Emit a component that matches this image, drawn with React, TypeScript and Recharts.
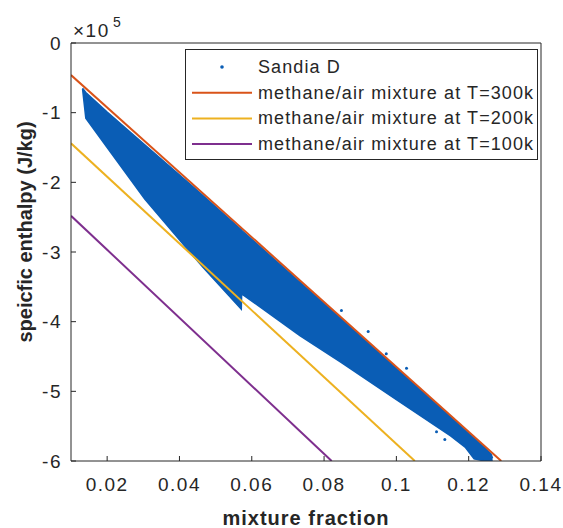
import React from 'react';
import { ComposedChart, Area, Line, Scatter, XAxis, YAxis, Legend } from 'recharts';

const FONT = '"Liberation Sans", Arial, Helvetica, sans-serif';
const INK = '#262626';
const BLUE = '#0a5db5';

// axis ticks
const xTicks = [0.02, 0.04, 0.06, 0.08, 0.1, 0.12, 0.14];
const yTicks = [-600000, -500000, -400000, -300000, -200000, -100000, 0];

// Sandia D point cloud: envelope of the dense scatter (J/kg)
const bandX = [0.0132, 0.0141, 0.02, 0.0304, 0.0437, 0.0465, 0.0571, 0.0572, 0.0733, 0.0846, 0.1, 0.115, 0.119, 0.1215, 0.1245, 0.1262, 0.1266];
const bandLow = [-0.66e5, -1.08e5, -1.5e5, -2.24e5, -3.05e5, -3.22e5, -3.82e5, -3.6e5, -4.2e5, -4.58e5, -5.12e5, -5.64e5, -5.8e5, -5.97e5, -6.0e5, -6.0e5, -5.99e5];
const bandHigh = [-0.65e5, -0.71e5, -0.99e5, -1.46e5, -2.06e5, -2.19e5, -2.68e5, -2.69e5, -3.43e5, -3.95e5, -4.67e5, -5.36e5, -5.55e5, -5.67e5, -5.81e5, -5.9e5, -5.96e5];

// isolated Sandia D points
const outX = [0.0848, 0.0922, 0.0972, 0.1028, 0.1111, 0.1134];
const outY = [-3.84e5, -4.14e5, -4.46e5, -4.67e5, -5.58e5, -5.69e5];

// methane/air mixture lines
const t300X = [0.01, 0.129];
const t300Y = [-0.46e5, -6.0e5];
const t200X = [0.01, 0.1051];
const t200Y = [-1.44e5, -6.0e5];
const t100X = [0.01, 0.0821];
const t100Y = [-2.48e5, -6.0e5];

const seriesNames = ['Sandia D', 'methane/air mixture at T=300k', 'methane/air mixture at T=200k', 'methane/air mixture at T=100k'];
const seriesColors = [BLUE, '#D95319', '#EDB120', '#7E2F8E'];

const bandData = bandX.map((x, i) => ({ x, range: [bandLow[i], bandHigh[i]] }));
const outData = outX.map((x, i) => ({ x, y: outY[i] }));
const mk = (xs: number[], ys: number[]) => xs.map((x, i) => ({ x, y: ys[i] }));
const lineData = [mk(t300X, t300Y), mk(t200X, t200Y), mk(t100X, t100Y)];

const tickStyle = { fill: INK, fontSize: 19, fontFamily: FONT, letterSpacing: 1.5 };

const renderLegend = () => (
  <svg width={353} height={111} style={{ display: 'block' }}>
    <rect x={0.5} y={0.5} width={352} height={110} fill="#fff" stroke={INK} strokeWidth={1} />
    {seriesNames.map((name, i) => {
      const cy = 18 + i * 25.7;
      return (
        <g key={name}>
          {i === 0 ? (
            <circle cx={37} cy={cy} r={1.8} fill={seriesColors[i]} />
          ) : (
            <line x1={7} x2={67} y1={cy} y2={cy} stroke={seriesColors[i]} strokeWidth={2} />
          )}
          <text x={73} y={cy} dominantBaseline="central" fontSize={18} fontFamily={FONT} fill={INK} letterSpacing={1.1}>
            {name}
          </text>
        </g>
      );
    })}
  </svg>
);

const yLabelContent = () => (
  <g>
    <text
      x={25}
      y={232}
      transform="rotate(-90, 25, 232)"
      textAnchor="middle"
      dominantBaseline="central"
      fontSize={20}
      fontWeight="bold"
      fontFamily={FONT}
      fill={INK}
    >
      speicfic enthalpy (J/kg)
    </text>
    <text x={73} y={37} fontSize={19} fontFamily={FONT} fill={INK} letterSpacing={1.5}>
      ×10
    </text>
    <text x={113} y={27} fontSize={14} fontFamily={FONT} fill={INK}>
      5
    </text>
  </g>
);

const xLabelContent = () => (
  <text x={306} y={525} textAnchor="middle" fontSize={20} fontWeight="bold" fontFamily={FONT} fill={INK} letterSpacing={1}>
    mixture fraction
  </text>
);

export default function App() {
  return (
    <div style={{ position: 'absolute', left: 0, top: 0, background: '#fff' }}>
      <ComposedChart width={563} height={528} data={bandData} margin={{ top: 42, right: 21, bottom: 0, left: 0 }}>
        <XAxis
          dataKey="x"
          type="number"
          domain={[0.01, 0.14]}
          ticks={xTicks}
          allowDataOverflow
          height={67}
          tickSize={-5}
          tickMargin={22}
          tick={tickStyle}
          tickFormatter={(v: number) => String(v)}
          stroke={INK}
          label={{ content: xLabelContent }}
        />
        <XAxis
          xAxisId="top"
          orientation="top"
          dataKey="x"
          type="number"
          domain={[0.01, 0.14]}
          ticks={xTicks}
          allowDataOverflow
          height={1}
          tickSize={-5}
          tick={false}
          stroke={INK}
        />
        <YAxis
          type="number"
          domain={[-600000, 0]}
          ticks={yTicks}
          allowDataOverflow
          width={71}
          tickSize={-5}
          tickMargin={14}
          tick={tickStyle}
          tickFormatter={(v: number) => String(Math.round(v / 1e5))}
          stroke={INK}
          label={{ content: yLabelContent }}
        />
        <YAxis
          yAxisId="right"
          orientation="right"
          type="number"
          domain={[-600000, 0]}
          ticks={yTicks}
          allowDataOverflow
          width={1}
          tickSize={-5}
          tick={false}
          stroke={INK}
        />
        <Area
          dataKey="range"
          type="linear"
          stroke={BLUE}
          strokeWidth={1.5}
          fill={BLUE}
          fillOpacity={1}
          isAnimationActive={false}
          legendType="none"
        />
        <Scatter
          data={outData}
          dataKey="y"
          fill={BLUE}
          isAnimationActive={false}
          shape={(p: any) => <circle cx={p.cx} cy={p.cy} r={1.5} fill={BLUE} />}
        />
        {lineData.map((d, i) => (
          <Line
            key={i}
            data={d}
            dataKey="y"
            type="linear"
            stroke={seriesColors[i + 1]}
            strokeWidth={2}
            dot={false}
            activeDot={false}
            isAnimationActive={false}
          />
        ))}
        <Legend
          layout="vertical"
          align="center"
          verticalAlign="middle"
          content={renderLegend}
          wrapperStyle={{ left: 185, top: 49, width: 353, height: 111, margin: 0, padding: 0 }}
        />
      </ComposedChart>
    </div>
  );
}
